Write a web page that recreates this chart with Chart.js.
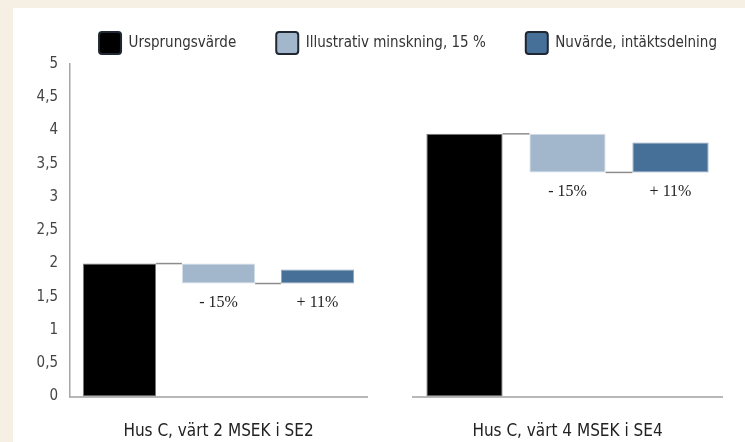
<!DOCTYPE html>
<html>
<head>
<meta charset="utf-8">
<script src="https://cdn.jsdelivr.net/npm/chart.js@4/dist/chart.umd.min.js"></script>
<style>
    html, body {
        margin: 0;
        padding: 0;
        background: #f6efe3;
        width: 745px;
        height: 442px;
        overflow: hidden;
    }
    #panel {
        position: absolute;
        left: 13px;
        top: 8px;
        width: 732px;
        height: 434px;
        background: #ffffff;
        overflow: hidden;
    }
    #panel canvas {
        position: absolute;
        left: 0;
        top: 0;
    }
</style>
</head>
<body>

<div id="panel">
    <canvas id="chartLeft" width="732" height="434"></canvas>
    <canvas id="chartRight" width="750" height="434"></canvas>
</div>

<script>

// ======================
// DATA
// ======================

const seriesNames = [
    "Ursprungsvärde",
    "Illustrativ minskning, 15 %",
    "Nuvärde, intäktsdelning"
];

const groupNames = [
    "Hus C, värt 2 MSEK i SE2",
    "Hus C, värt 4 MSEK i SE4"
];

const originalValues = [2.0, 3.95];
const reducedValues = [1.70, 3.37];
const presentValues = [1.91, 3.82];

const changeLabels = ["- 15%", "+ 11%"];

const yMin = 0;
const yMax = 5;
const yStep = 0.5;

const seriesColors = ["#000000", "#a2b7cb", "#467098"];
const seriesBorders = ["#7a7a7a", "#d3dde7", "#8ea5bd"];

const sansFont = "'Liberation Sans Narrow', 'DejaVu Sans Condensed', 'Roboto Condensed', sans-serif";
const serifFont = "'Liberation Serif', 'DejaVu Serif', serif";


// ======================
// WATERFALL PLUGIN
// connectors + change labels
// ======================

const waterfallPlugin = {

    id: "waterfall",

    afterDatasetsDraw(chart, args, opts) {

        const g = opts.group;
        const ctx = chart.ctx;
        const y = chart.scales.y;

        const b0 = chart.getDatasetMeta(0).data[0];
        const b1 = chart.getDatasetMeta(1).data[1];
        const b2 = chart.getDatasetMeta(2).data[2];

        ctx.save();

        ctx.strokeStyle = "#8c8c8c";
        ctx.lineWidth = 1.5;

        // original level -> decrease bar
        const yTop = y.getPixelForValue(originalValues[g]);
        ctx.beginPath();
        ctx.moveTo(b0.x + b0.width / 2, yTop);
        ctx.lineTo(b1.x - b1.width / 2, yTop);
        ctx.stroke();

        // reduced level -> present bar
        const yLow = y.getPixelForValue(reducedValues[g]);
        ctx.beginPath();
        ctx.moveTo(b1.x + b1.width / 2, yLow);
        ctx.lineTo(b2.x - b2.width / 2, yLow);
        ctx.stroke();

        // labels under the floating bars
        ctx.fillStyle = "#222222";
        ctx.font = "16px " + serifFont;
        ctx.textAlign = "center";
        ctx.textBaseline = "middle";

        ctx.fillText(changeLabels[0], b1.x, yLow + 19);
        ctx.fillText(changeLabels[1], b2.x, yLow + 19);

        ctx.restore();
    }
};


// ======================
// SHARED PIECES
// ======================

function buildDatasets(g) {

    return [
        {
            label: seriesNames[0],
            data: [[yMin, originalValues[g]], null, null],
            backgroundColor: seriesColors[0],
            borderColor: seriesBorders[0],
            borderWidth: 1
        },
        {
            label: seriesNames[1],
            data: [null, [reducedValues[g], originalValues[g]], null],
            backgroundColor: seriesColors[1],
            borderColor: seriesBorders[1],
            borderWidth: 1
        },
        {
            label: seriesNames[2],
            data: [null, null, [reducedValues[g], presentValues[g]]],
            backgroundColor: seriesColors[2],
            borderColor: seriesBorders[2],
            borderWidth: 1
        }
    ];
}

function xAxis(g) {

    return {
        type: "category",
        ticks: { display: false },
        grid: { display: false, drawTicks: false },
        border: { display: true, color: "#b8b8b8", width: 2 },
        title: {
            display: true,
            text: groupNames[g],
            color: "#222222",
            font: { family: sansFont, size: 17 },
            padding: { top: 25, bottom: 0 }
        }
    };
}

function spacer(position, width) {

    return {
        position: position,
        min: yMin,
        max: yMax,
        ticks: { display: false },
        grid: { display: false, drawTicks: false },
        border: { display: false },
        afterFit: s => { s.width = width; }
    };
}

const barDefaults = {
    skipNull: true,
    categoryPercentage: 1,
    barPercentage: 0.74,
    borderSkipped: false
};


// ======================
// RIGHT CHART (carries the legend)
// ======================

const right = new Chart(
    document.getElementById("chartRight"),
    {
        type: "bar",

        data: {
            labels: seriesNames,
            datasets: buildDatasets(1)
        },

        plugins: [waterfallPlugin],

        options: {
            responsive: false,
            animation: false,
            layout: {
                padding: { top: -16, left: 40, right: 0, bottom: 0 }
            },
            datasets: { bar: barDefaults },
            scales: {
                x: xAxis(1),
                y: spacer("left", 360),
                pad: spacer("right", 41)
            },
            plugins: {
                waterfall: { group: 1 },
                tooltip: { enabled: false },
                legend: {
                    position: "top",
                    labels: {
                        color: "#333333",
                        font: { family: sansFont, size: 15 },
                        boxWidth: 22,
                        boxHeight: 22,
                        padding: 40,
                        useBorderRadius: true,
                        borderRadius: 3,
                        generateLabels: chart =>
                            chart.data.datasets.map((ds, i) => ({
                                text: ds.label,
                                fillStyle: seriesColors[i],
                                strokeStyle: "#1f2733",
                                lineWidth: 2,
                                fontColor: "#333333",
                                borderRadius: 3,
                                datasetIndex: i,
                                hidden: false
                            }))
                    }
                }
            }
        }
    }
);


// ======================
// LEFT CHART (y axis, aligned to the right one)
// ======================

const left = new Chart(
    document.getElementById("chartLeft"),
    {
        type: "bar",

        data: {
            labels: seriesNames,
            datasets: buildDatasets(0)
        },

        plugins: [waterfallPlugin],

        options: {
            responsive: false,
            animation: false,
            layout: {
                padding: { top: right.chartArea.top, left: 0, right: 0, bottom: 0 }
            },
            datasets: { bar: barDefaults },
            scales: {
                x: xAxis(0),
                y: {
                    min: yMin,
                    max: yMax,
                    ticks: {
                        stepSize: yStep,
                        padding: 12,
                        color: "#444444",
                        font: { family: sansFont, size: 15 },
                        callback: v => String(v).replace(".", ",")
                    },
                    grid: { display: false, drawTicks: false },
                    border: { display: true, color: "#a6a6a6", width: 1.5 },
                    afterFit: s => { s.width = 57; }
                },
                pad: spacer("right", 378)
            },
            plugins: {
                waterfall: { group: 0 },
                tooltip: { enabled: false },
                legend: { display: false }
            }
        }
    }
);

</script>
</body>
</html>
